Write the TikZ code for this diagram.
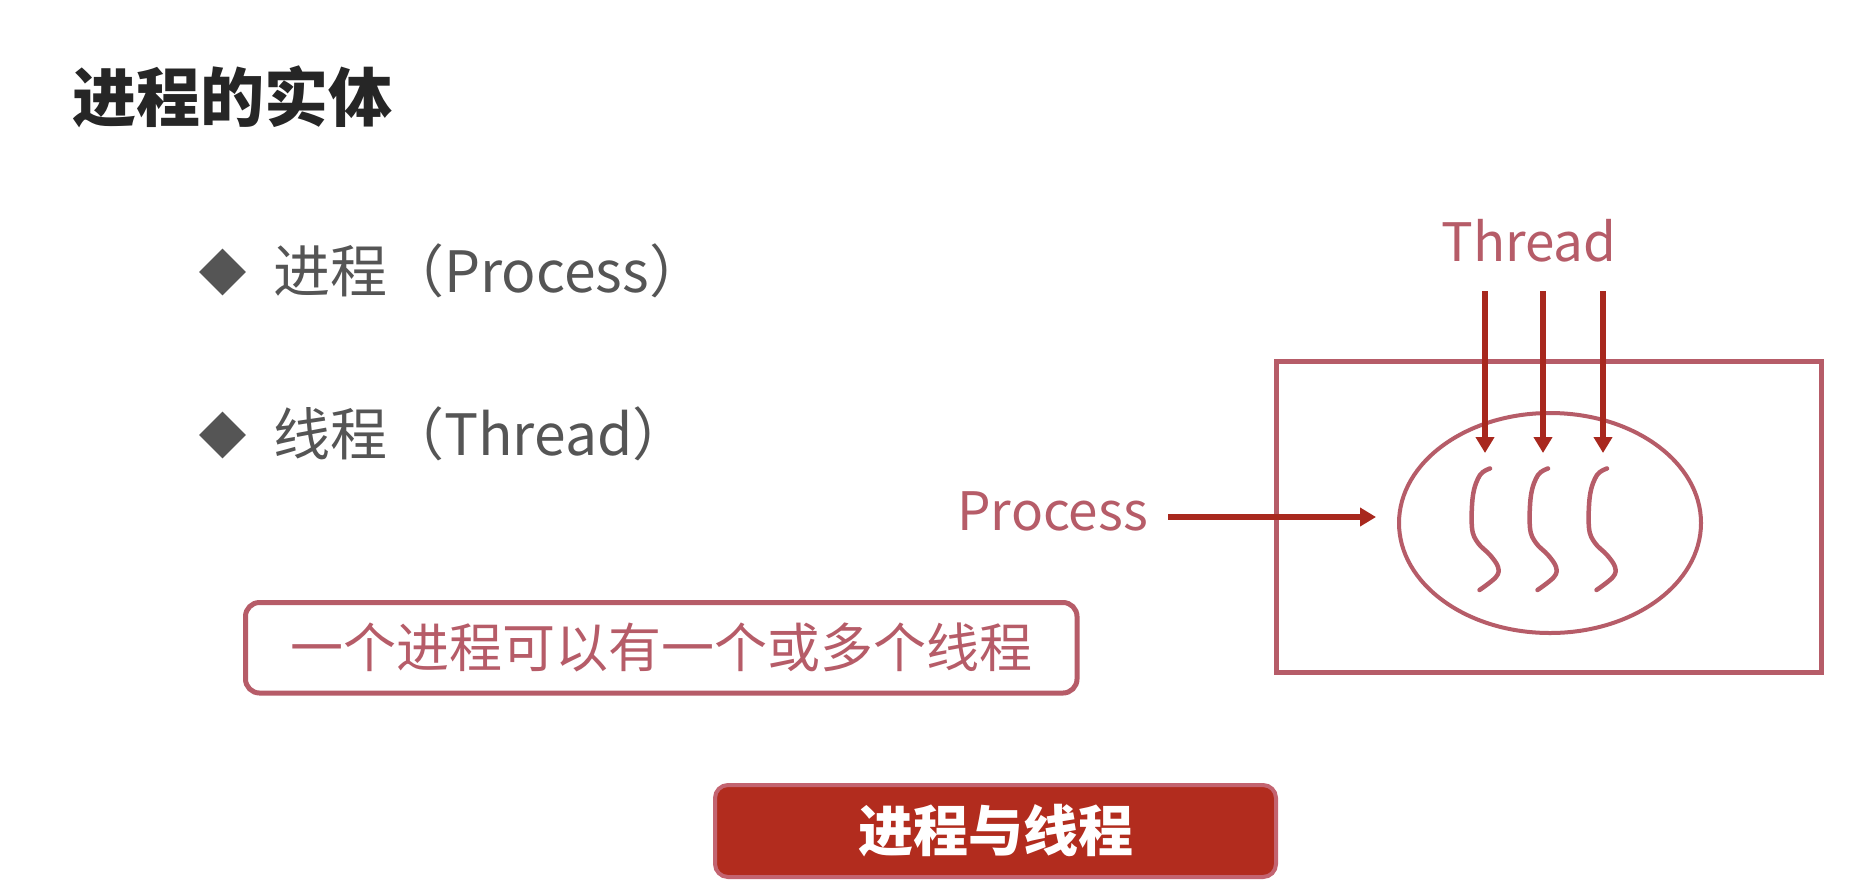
\documentclass[tikz,border=0pt]{standalone}
\usepackage{fontspec}
\setmainfont{Noto Sans CJK SC}
\usetikzlibrary{arrows.meta,shapes.geometric}
\definecolor{rose}{HTML}{B65C68}
\definecolor{arrred}{HTML}{A8281E}
\definecolor{btnfill}{HTML}{B22C1E}
\definecolor{btnedge}{HTML}{C36470}
\definecolor{titlecol}{HTML}{262626}
\definecolor{bulletgray}{HTML}{555555}
\tikzset{
  titletext/.style={inner sep=0pt, anchor=base west, text=titlecol, font=\fontsize{64}{70}\selectfont\bfseries},
  bullettext/.style={inner sep=0pt, anchor=base west, text=bulletgray, font=\fontsize{57}{62}\selectfont},
  bulletmark/.style={diamond, fill=bulletgray, minimum width=47pt, minimum height=47pt, inner sep=0pt},
  notebox/.style={draw=rose, line width=5pt, rounded corners=14pt, text=rose, font=\fontsize{53}{58}\selectfont, inner sep=0pt},
  btn/.style={draw=btnedge, fill=btnfill, line width=4pt, rounded corners=13pt, text=white, font=\fontsize{55}{60}\selectfont\bfseries, inner sep=0pt},
  labeltext/.style={inner sep=0pt, text=rose, font=\fontsize{53}{58}\selectfont},
  arr/.style={draw=arrred, line width=5.5pt, -{Triangle[width=18pt,length=16pt]}},
  squig/.style={draw=rose, line width=4.5pt, line cap=round, line join=round},
}
\begin{document}
\begin{tikzpicture}[x=1pt,y=-1pt]
\useasboundingbox[fill=white] (0,0) rectangle (1870,884);

% title
\node[titletext] (title) at (72,121) {进程的实体};

% bullets
\node[bulletmark] (d1) at (222.5,272) {};
\node[bullettext] (b1) at (273,292) {进程（Process）};
\node[bulletmark] (d2) at (222.5,435) {};
\node[bullettext] (b2) at (273,455) {线程（Thread）};

% note box
\node[notebox, minimum width=831.5pt, minimum height=90.5pt] (note) at (661.25,647.75) {一个进程可以有一个或多个线程};

% button
\node[btn, minimum width=561pt, minimum height=92pt] (button) at (995.5,831) {进程与线程};

% right diagram
\node[draw=rose, line width=5pt, minimum width=545pt, minimum height=311pt, inner sep=0pt] (procbox) at (1548.5,516.5) {};
\node[draw=rose, line width=4pt, ellipse, minimum width=302pt, minimum height=220pt, inner sep=0pt] (proc) at (1550,523) {};

\node[labeltext, anchor=base] (thread) at (1529,261) {Thread};
\node[labeltext, anchor=base east] (plabel) at (1148,530) {Process};

\coordinate (ts1) at (1485,291); \coordinate (te1) at (1485,453);
\coordinate (ts2) at (1543,291); \coordinate (te2) at (1543,453);
\coordinate (ts3) at (1603,291); \coordinate (te3) at (1603,453);
\draw[arr] (ts1) -- (te1);
\draw[arr] (ts2) -- (te2);
\draw[arr] (ts3) -- (te3);

\coordinate (ps) at (1168,517); \coordinate (pe) at (1376,517);
\draw[arr] (ps) -- (pe);

% threads (squiggles)
\foreach \dx in {0,58,117} {
  \draw[squig, shift={(\dx,0)}] plot[smooth, tension=0.6] coordinates {
    (1490,468.5) (1480,475) (1473,495) (1472,528) (1478,543)
    (1490,555) (1498,567) (1496,577) (1479.5,590)};
}
\end{tikzpicture}
\end{document}
